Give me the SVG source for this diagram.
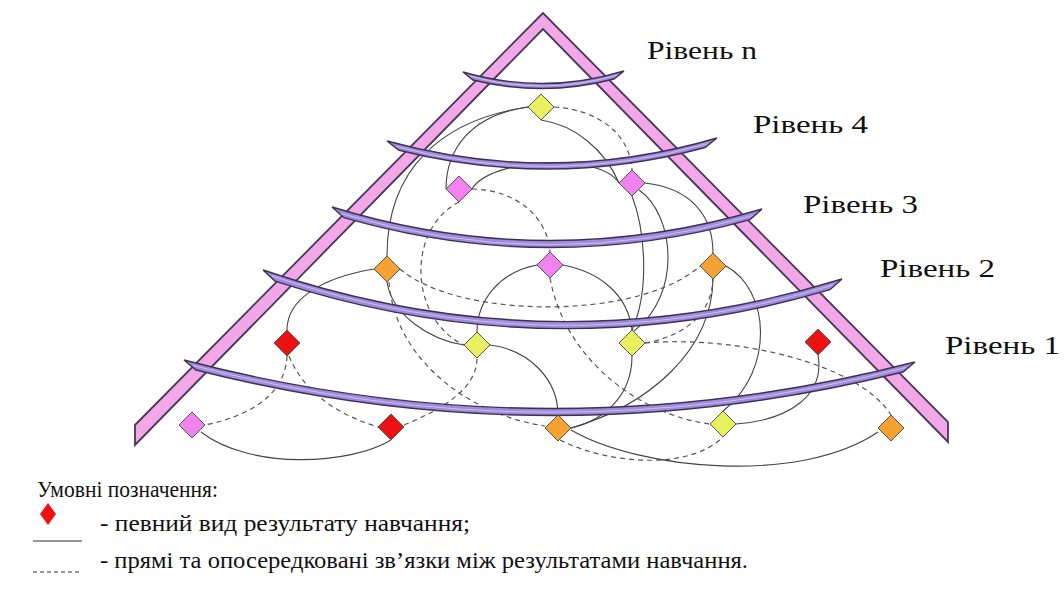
<svg xmlns="http://www.w3.org/2000/svg" width="1064" height="592" viewBox="0 0 1064 592">
<defs>
<style>
.band{fill:#f2a8e6;stroke:#46375a;stroke-width:1.8;stroke-linejoin:miter}
.lvl{fill:#a08cdc;stroke:#3d3152;stroke-width:1.4}
.lvlc{fill:none;stroke:#cbbff3;stroke-width:1}
.s{fill:none;stroke:#444;stroke-width:1.1}
.d{fill:none;stroke:#555;stroke-width:1.2;stroke-dasharray:5 4}
.dm{stroke:#555;stroke-width:1}
.y{fill:#e8f060}
.p{fill:#f282f0}
.o{fill:#f5a232}
.r{fill:#ee1111}
text{font-family:'Liberation Serif','Times New Roman','DejaVu Serif',serif;fill:#111}
</style>
<path id="dia" d="M0,-13 L13,0 L0,13 L-13,0 Z"/>
</defs>
<rect width="1064" height="592" fill="#fff"/>

<g id="triangle">
<polygon class="band" points="135,425 543,13 948,422 948,442 543,29 135,445"/>
</g>

<g id="connectors">
<path class="s" d="M528,107 C440,120 387,170 387,256"/>
<path class="s" d="M528,107 C470,115 446,150 446,189"/>
<path class="s" d="M541,120 C575,125 605,150 619,183"/>
<path class="s" d="M472,189 C490,158 600,152 619,183"/>
<path class="s" d="M645,183 C690,188 713,215 713,253"/>
<path class="s" d="M632,196 C645,230 650,290 632,330"/>
<path class="s" d="M639,190 C675,215 682,295 634,331"/>
<path class="s" d="M563,265 C600,272 628,295 632,330"/>
<path class="s" d="M537,265 C500,272 477,300 477,332"/>
<path class="s" d="M374,269 C320,278 287,300 287,330"/>
<path class="s" d="M387,282 C392,315 430,340 464,345"/>
<path class="s" d="M201,432 C250,470 350,465 391,440"/>
<path class="s" d="M490,345 C530,350 558,380 558,415"/>
<path class="s" d="M632,356 C632,395 605,420 571,428"/>
<path class="s" d="M713,279 C712,350 650,405 571,428"/>
<path class="s" d="M726,266 C770,290 775,370 723,411"/>
<path class="s" d="M818,355 C825,395 790,420 736,424"/>
<path class="s" d="M571,430 C640,470 800,485 878,432"/>
<path class="d" d="M554,107 C600,110 630,135 632,170"/>
<path class="d" d="M472,189 C520,190 548,220 550,252"/>
<path class="d" d="M459,202 C405,230 410,320 464,345"/>
<path class="d" d="M400,269 C460,320 640,320 700,266"/>
<path class="d" d="M389,282 C395,360 470,415 545,426"/>
<path class="d" d="M287,356 C285,400 240,418 205,425"/>
<path class="d" d="M289,356 C305,395 340,415 378,427"/>
<path class="d" d="M404,425 C440,410 477,390 477,358"/>
<path class="d" d="M550,278 C565,360 640,415 710,424"/>
<path class="d" d="M560,440 C610,465 690,470 723,437"/>
<path class="d" d="M645,343 C690,335 712,310 713,279"/>
<path class="d" d="M645,343 C740,335 860,365 891,415"/>
</g>

<g id="levels">
<g id="level-n"><path class="lvl" d="M463,72 Q543.5,95.5 624,71 L614,79 Q543.5,97.5 473,80 Z"/><path class="lvlc" d="M470,76 Q543.5,96.5 617,75"/></g>
<g id="level-4"><path class="lvl" d="M387,141 Q552,186.5 717,138 L705,147.5 Q552,189.1 399,150.3 Z"/><path class="lvlc" d="M396,146.5 Q552,188 708,143.5"/></g>
<g id="level-3"><path class="lvl" d="M332,207 Q547,273 762,209 L750,219.6 Q547,276.4 344,217.7 Z"/><path class="lvlc" d="M341,213.5 Q547,275 753,215.5"/></g>
<g id="level-2"><path class="lvl" d="M263,270 Q552.5,368.5 842,279 L830,289.7 Q552.5,371.6 275,281.1 Z"/><path class="lvlc" d="M272,276 Q552.5,370 833,285"/></g>
<g id="level-1"><path class="lvl" d="M184,360 Q549.5,456 915,362 L903,372 Q549.5,460 196,370 Z"/><path class="lvlc" d="M193,365.5 Q549.5,458 906,367.5"/></g>
</g>

<g id="nodes">
<g id="n-y1"><use href="#dia" class="y dm" x="541" y="107"/></g>
<g id="n-p1"><use href="#dia" class="p dm" x="459" y="189"/></g>
<g id="n-p2"><use href="#dia" class="p dm" x="632" y="183"/></g>
<g id="n-o1"><use href="#dia" class="o dm" x="387" y="269"/></g>
<g id="n-p3"><use href="#dia" class="p dm" x="550" y="265"/></g>
<g id="n-o2"><use href="#dia" class="o dm" x="713" y="266"/></g>
<g id="n-r1"><use href="#dia" class="r dm" x="287" y="343"/></g>
<g id="n-y2"><use href="#dia" class="y dm" x="477" y="345"/></g>
<g id="n-y3"><use href="#dia" class="y dm" x="632" y="343"/></g>
<g id="n-r2"><use href="#dia" class="r dm" x="818" y="342"/></g>
<g id="n-p4"><use href="#dia" class="p dm" x="192" y="425"/></g>
<g id="n-r3"><use href="#dia" class="r dm" x="391" y="427"/></g>
<g id="n-o3"><use href="#dia" class="o dm" x="558" y="428"/></g>
<g id="n-y4"><use href="#dia" class="y dm" x="723" y="424"/></g>
<g id="n-o4"><use href="#dia" class="o dm" x="891" y="428"/></g>
</g>

<g id="labels" font-size="25">
<text x="647" y="59" textLength="110" lengthAdjust="spacingAndGlyphs">Рівень n</text>
<text x="753" y="133" textLength="115" lengthAdjust="spacingAndGlyphs">Рівень 4</text>
<text x="803" y="213" textLength="115" lengthAdjust="spacingAndGlyphs">Рівень 3</text>
<text x="880" y="277" textLength="115" lengthAdjust="spacingAndGlyphs">Рівень 2</text>
<text x="945" y="354" textLength="115" lengthAdjust="spacingAndGlyphs">Рівень 1</text>
</g>

<g id="legend" font-size="23">
<text x="37" y="497" textLength="181" lengthAdjust="spacingAndGlyphs">Умовні позначення:</text>
<path d="M48,503 L56,514 L48,525 L40,514 Z" fill="#ee1111"/>
<text x="100" y="531" textLength="370" lengthAdjust="spacingAndGlyphs">- певний вид результату навчання;</text>
<line x1="33" y1="541" x2="82" y2="541" stroke="#333" stroke-width="1.2"/>
<line x1="33" y1="572" x2="82" y2="572" stroke="#333" stroke-width="1.2" stroke-dasharray="4 3"/>
<text x="100" y="568" textLength="648" lengthAdjust="spacingAndGlyphs">- прямі та опосередковані зв’язки між результатами навчання.</text>
</g>
</svg>
